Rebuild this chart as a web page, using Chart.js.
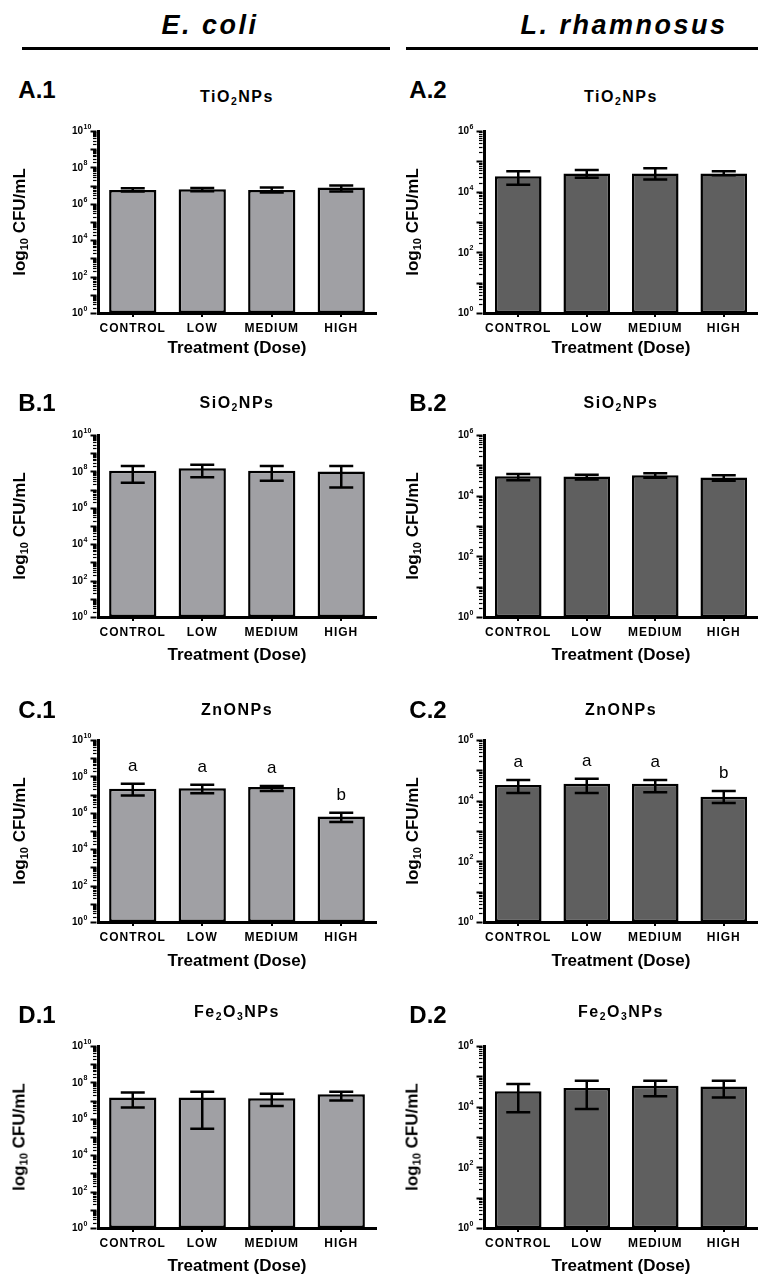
<!DOCTYPE html>
<html>
<head>
<meta charset="utf-8">
<script src="https://cdn.jsdelivr.net/npm/chart.js@4.4.1/dist/chart.umd.min.js"></script>
<style>
  html, body { margin: 0; padding: 0; background: #fff; }
  #page { position: relative; width: 758px; height: 1277px; overflow: hidden; font-family: 'Liberation Sans', Arial, sans-serif; color: #000; }
  #page canvas { position: absolute; }
  .txt { position: absolute; transform: translate(-50%, -50%); white-space: nowrap; font-weight: bold; line-height: 1; }
  .head { font-size: 27px; font-style: italic; letter-spacing: 2.5px; }
  .rule { position: absolute; height: 3px; background: #000; }
  .plabel { font-size: 24px; }
  .ptitle { font-size: 16px; letter-spacing: 1.5px; }
  .xtitle { font-size: 17px; }
  .ytitle { font-size: 17px; transform: translate(-50%, -50%) rotate(-90deg); }
  sub { font-size: 0.65em; vertical-align: -0.3em; line-height: 0; }
</style>
</head>
<body>
<div id="page"></div>
<script>
const FONT = "'Liberation Sans', Arial, sans-serif";

const categories = ['CONTROL', 'LOW', 'MEDIUM', 'HIGH'];
const ecoliExponents = [0, 2, 4, 6, 8, 10];   // y tick labels 10^n
const rhamExponents = [0, 2, 4, 6];
const zincLetters = ['a', 'a', 'a', 'b'];

// E. coli (CFU/mL): mean, upper and lower end of the error bar
const ecoliTiO2 = [5.8e6, 6.3e6, 5.8e6, 7.8e6];
const ecoliTiO2Hi = [7.1e6, 7.4e6, 7.8e6, 1.0e7];
const ecoliTiO2Lo = [4.7e6, 4.9e6, 4.2e6, 4.7e6];
const ecoliSiO2 = [1.1e8, 1.5e8, 1.1e8, 1.0e8];
const ecoliSiO2Hi = [1.95e8, 2.3e8, 1.95e8, 1.95e8];
const ecoliSiO2Lo = [2.4e7, 4.7e7, 3.1e7, 1.3e7];
const ecoliZnO = [2.1e7, 2.2e7, 2.6e7, 6.3e5];
const ecoliZnOHi = [4.0e7, 3.5e7, 3.0e7, 1.0e6];
const ecoliZnOLo = [9.0e6, 1.2e7, 1.6e7, 3.1e5];
const ecoliFe2O3 = [1.5e7, 1.5e7, 1.35e7, 2.2e7];
const ecoliFe2O3Hi = [2.8e7, 3.1e7, 2.4e7, 3.1e7];
const ecoliFe2O3Lo = [4.2e6, 2.8e5, 5.1e6, 1.0e7];

// L. rhamnosus (CFU/mL)
const rhamTiO2 = [3.2e4, 4.0e4, 4.0e4, 4.0e4];
const rhamTiO2Hi = [4.7e4, 5.2e4, 5.9e4, 4.7e4];
const rhamTiO2Lo = [1.7e4, 2.9e4, 2.5e4, 3.5e4];
const rhamSiO2 = [4.4e4, 4.3e4, 4.7e4, 4.0e4];
const rhamSiO2Hi = [5.2e4, 4.9e4, 5.5e4, 4.7e4];
const rhamSiO2Lo = [3.2e4, 3.4e4, 3.9e4, 3.1e4];
const rhamZnO = [3.3e4, 3.6e4, 3.6e4, 1.35e4];
const rhamZnOHi = [4.8e4, 5.3e4, 4.8e4, 2.1e4];
const rhamZnOLo = [1.8e4, 1.8e4, 1.9e4, 8.4e3];
const rhamFe2O3 = [3.2e4, 4.1e4, 4.9e4, 4.6e4];
const rhamFe2O3Hi = [5.6e4, 7.2e4, 7.2e4, 7.2e4];
const rhamFe2O3Lo = [6.5e3, 8.4e3, 2.2e4, 2.0e4];

const panels = [
    { label: 'A.1', title: 'TiO<sub>2</sub>NPs', col: 0, row: 0, mean: ecoliTiO2, hi: ecoliTiO2Hi, lo: ecoliTiO2Lo, exps: ecoliExponents },
    { label: 'B.1', title: 'SiO<sub>2</sub>NPs', col: 0, row: 1, mean: ecoliSiO2, hi: ecoliSiO2Hi, lo: ecoliSiO2Lo, exps: ecoliExponents },
    { label: 'C.1', title: 'ZnONPs', col: 0, row: 2, mean: ecoliZnO, hi: ecoliZnOHi, lo: ecoliZnOLo, exps: ecoliExponents, letters: zincLetters },
    { label: 'D.1', title: 'Fe<sub>2</sub>O<sub>3</sub>NPs', col: 0, row: 3, mean: ecoliFe2O3, hi: ecoliFe2O3Hi, lo: ecoliFe2O3Lo, exps: ecoliExponents },
    { label: 'A.2', title: 'TiO<sub>2</sub>NPs', col: 1, row: 0, mean: rhamTiO2, hi: rhamTiO2Hi, lo: rhamTiO2Lo, exps: rhamExponents },
    { label: 'B.2', title: 'SiO<sub>2</sub>NPs', col: 1, row: 1, mean: rhamSiO2, hi: rhamSiO2Hi, lo: rhamSiO2Lo, exps: rhamExponents },
    { label: 'C.2', title: 'ZnONPs', col: 1, row: 2, mean: rhamZnO, hi: rhamZnOHi, lo: rhamZnOLo, exps: rhamExponents, letters: zincLetters },
    { label: 'D.2', title: 'Fe<sub>2</sub>O<sub>3</sub>NPs', col: 1, row: 3, mean: rhamFe2O3, hi: rhamFe2O3Hi, lo: rhamFe2O3Lo, exps: rhamExponents }
];

// layout of the grid
const rowTop = [131, 435, 740, 1046];
const labelY = [90, 403, 710, 1015];
const titleY = [97, 403, 710, 1012];
const xTitleOff = [34, 37, 38, 37];
const PLOT_H = 182;
const cols = [
    { x0: 0, w: 379, left: 98, right: 376, fill: '#a0a0a4', yTitleX: 19, labelX: 37 },
    { x0: 379, w: 379, left: 484, right: 758, fill: '#5f5f5f', yTitleX: 412, labelX: 428 }
];

const page = document.getElementById('page');

function addText(html, x, y, cls) {
    const d = document.createElement('div');
    d.className = 'txt ' + cls;
    d.innerHTML = html;
    d.style.left = x + 'px';
    d.style.top = y + 'px';
    page.appendChild(d);
}

function addRule(x, y, w) {
    const d = document.createElement('div');
    d.className = 'rule';
    d.style.left = x + 'px';
    d.style.top = y + 'px';
    d.style.width = w + 'px';
    page.appendChild(d);
}

addText('E. coli', 210, 25, 'head');
addText('L. rhamnosus', 624, 25, 'head');
addRule(22, 47, 368);
addRule(406, 47, 352);

Chart.defaults.font.family = FONT;
Chart.defaults.color = '#000';

const panelPlugin = {
    id: 'panelExtras',
    beforeDraw(chart) {
        chart.ctx.letterSpacing = '1px';
    },
    afterDatasetsDraw(chart) {
        const p = chart.options.plugins.panelExtras.panel;
        const ctx = chart.ctx;
        const y = chart.scales.y;
        const bars = chart.getDatasetMeta(0).data;
        ctx.save();
        ctx.letterSpacing = '0px';
        ctx.strokeStyle = '#000';
        ctx.lineWidth = 2.5;
        bars.forEach((bar, i) => {
            const yHi = y.getPixelForValue(p.hi[i]);
            const yLo = y.getPixelForValue(p.lo[i]);
            ctx.beginPath();
            ctx.moveTo(bar.x, yHi);
            ctx.lineTo(bar.x, yLo);
            ctx.moveTo(bar.x - 12, yHi);
            ctx.lineTo(bar.x + 12, yHi);
            ctx.moveTo(bar.x - 12, yLo);
            ctx.lineTo(bar.x + 12, yLo);
            ctx.stroke();
            if (p.letters) {
                ctx.fillStyle = '#000';
                ctx.font = '17px ' + FONT;
                ctx.textAlign = 'center';
                ctx.textBaseline = 'alphabetic';
                ctx.fillText(p.letters[i], bar.x, yHi - 13);
            }
        });
        ctx.restore();
    },
    afterDraw(chart) {
        const p = chart.options.plugins.panelExtras.panel;
        const ctx = chart.ctx;
        const y = chart.scales.y;
        const ax = chart.chartArea.left - 1.5;
        const first = p.exps[0], last = p.exps[p.exps.length - 1];
        ctx.save();
        ctx.letterSpacing = '0px';
        ctx.strokeStyle = '#000';
        // log ticks: decades long, 2..9 short
        for (let e = first; e <= last; e++) {
            for (let k = 1; k <= 9; k++) {
                if (e === last && k > 1) break;
                const py = Math.round(y.getPixelForValue(k * Math.pow(10, e))) + 0.5;
                const len = k === 1 ? 6 : 3.5;
                ctx.lineWidth = k === 1 ? 2 : 1.2;
                ctx.beginPath();
                ctx.moveTo(ax - len, py);
                ctx.lineTo(ax, py);
                ctx.stroke();
            }
        }
        ctx.fillStyle = '#000';
        ctx.textBaseline = 'middle';
        p.exps.forEach(e => {
            const py = y.getPixelForValue(Math.pow(10, e));
            const xr = chart.chartArea.left - 15;
            ctx.font = 'bold 10px ' + FONT;
            ctx.textAlign = 'right';
            ctx.fillText('10', xr, py + 0.5);
            ctx.font = 'bold 7px ' + FONT;
            ctx.textAlign = 'left';
            ctx.fillText(String(e), xr + 0.5, py - 4);
        });
        ctx.restore();
    }
};

panels.forEach(p => {
    const c = cols[p.col];
    const top = rowTop[p.row];
    const padTop = 10;
    const xAxisH = 40;

    const canvas = document.createElement('canvas');
    canvas.width = c.w;
    canvas.height = padTop + PLOT_H + xAxisH;
    canvas.style.left = c.x0 + 'px';
    canvas.style.top = (top - padTop) + 'px';
    canvas.style.width = c.w + 'px';
    canvas.style.height = canvas.height + 'px';
    page.appendChild(canvas);

    const midX = (c.left + c.right) / 2;
    addText(p.label, c.labelX, labelY[p.row], 'plabel');
    addText(p.title, midX, titleY[p.row], 'ptitle');
    addText('Treatment (Dose)', midX, top + PLOT_H + xTitleOff[p.row], 'xtitle');
    addText('log<sub>10</sub> CFU/mL', c.yTitleX, top + PLOT_H / 2, 'ytitle');

    new Chart(canvas.getContext('2d'), {
        type: 'bar',
        data: {
            labels: categories,
            datasets: [{
                data: p.mean,
                backgroundColor: c.fill,
                borderColor: '#000',
                borderWidth: 2.5,
                borderSkipped: false,
                categoryPercentage: 1,
                barPercentage: 0.68
            }]
        },
        options: {
            responsive: false,
            devicePixelRatio: 1,
            animation: false,
            layout: {
                padding: { left: c.left - c.x0, right: Math.max(0, c.x0 + c.w - c.right), top: padTop, bottom: 0 }
            },
            plugins: {
                legend: { display: false },
                tooltip: { enabled: false },
                panelExtras: { panel: p }
            },
            scales: {
                x: {
                    grid: { display: true, drawOnChartArea: false, drawTicks: true, tickLength: 4, offset: false, color: '#000', lineWidth: 2 },
                    border: { display: true, width: 3, color: '#000' },
                    ticks: { font: { size: 12, weight: 'bold' }, color: '#000', padding: 4, maxRotation: 0, autoSkip: false },
                    afterFit: s => { s.height = xAxisH; }
                },
                y: {
                    type: 'logarithmic',
                    min: 1,
                    max: Math.pow(10, p.exps[p.exps.length - 1]),
                    grid: { display: false, drawTicks: false },
                    border: { display: true, width: 3, color: '#000' },
                    ticks: { display: false },
                    afterFit: s => { s.width = 0; }
                }
            }
        },
        plugins: [panelPlugin]
    });
});
</script>
</body>
</html>
